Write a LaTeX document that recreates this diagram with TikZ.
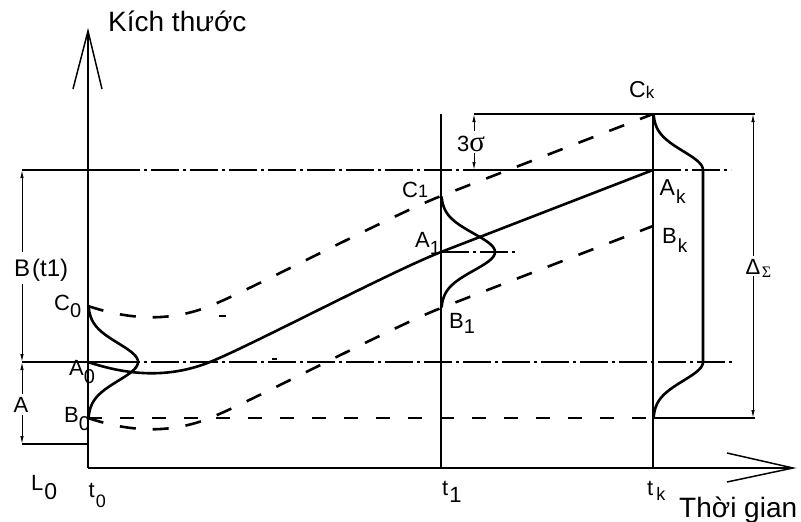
\documentclass[tikz,border=0pt]{standalone}
\usepackage{fontspec}
\setmainfont{Liberation Sans}
\newfontfamily\seriffam{Liberation Serif}
\usetikzlibrary{arrows.meta}
\newcommand\fs[1]{\fontsize{#1}{#1}\selectfont}
\newcommand\lsub[6]{{\fs{#1}#2}\kern#6pt\raisebox{-#5pt}{\fs{#3}#4}}
\begin{document}
\begin{tikzpicture}[x=1pt,y=-1pt,
  thinl/.style={line width=1.1pt},
  axisl/.style={line width=1.5pt},
  curvel/.style={line width=2.6pt, line join=round},
  dashc/.style={curvel, dash pattern=on 16pt off 17pt},
  ddl/.style={line width=1.2pt, dash pattern=on 28pt off 4pt on 3pt off 4pt},
  diml/.style={line width=1pt},
  tipl/.style={-{Latex[length=8pt,width=3.5pt]}},
  lab/.style={inner sep=0pt, anchor=base west},
]
\useasboundingbox (0,0) rectangle (801,522);
% axes
\coordinate (O) at (88,468);
\coordinate (Ytop) at (88,31);
\coordinate (Xend) at (793,468);
\coordinate (ya1) at (73,89);
\coordinate (ya2) at (102,89);
\coordinate (xa1) at (727,453);
\coordinate (xa2) at (727,482);
\draw[axisl] (O) -- (Ytop);
\draw[axisl] (ya1) -- (Ytop) -- (ya2);
\draw[axisl] (O) -- (Xend);
\draw[axisl] (xa1) -- (Xend) -- (xa2);
% vertical time lines
\coordinate (T1top) at (441,114);
\coordinate (T1bot) at (441,468);
\coordinate (TKtop) at (653,114);
\coordinate (TKbot) at (653,468);
\draw[thinl] (T1top) -- (T1bot);
\draw[thinl] (TKtop) -- (TKbot);
% horizontal lines
\draw[thinl] (22,170) -- (112,170);
\draw[ddl] (112,170) -- (474,170);
\draw[thinl] (474,170) -- (653,170);
\draw[ddl] (653,170) -- (731,170);
\draw[thinl] (22,362) -- (112,362);
\draw[ddl] (112,362) -- (733,362);
\draw[thinl, dash pattern=on 14pt off 18pt] (88,418) -- (653,418);
\draw[thinl] (653,418) -- (755,418);
\draw[thinl] (22,444) -- (88,444);
\draw[thinl] (474,114) -- (755,114);
\draw[ddl] (441,252) -- (518,252);
% dimensions
\draw[diml,tipl] (22,252) -- (22,170);
\draw[diml,tipl] (22,284) -- (22,362);
\draw[diml,tipl] (22,394) -- (22,362);
\draw[diml,tipl] (22,415) -- (22,444);
\draw[diml,tipl] (474,131) -- (474,114);
\draw[diml,tipl] (474,153) -- (474,170);
\draw[diml,tipl] (753,256) -- (753,114);
\draw[diml,tipl] (753,276) -- (753,418);
% main curves
\draw[curvel] (88,362) .. controls (130,376) and (170,378) .. (210,362)
  .. controls (250,346) and (390,272) .. (441,252) -- (653,170);
\draw[dashc] (88,306) .. controls (130,320) and (170,322) .. (210,306)
  .. controls (250,290) and (390,216) .. (441,196) -- (653,114);
\draw[dashc] (88,418) .. controls (130,432) and (170,434) .. (210,418)
  .. controls (250,402) and (390,328) .. (441,308) -- (653,226);
\draw[line width=2pt] (219,316) -- (226,316);
\draw[line width=1.4pt] (272,359) -- (277,359);
% distributions
\draw[curvel] plot[domain=-3:3, samples=61, smooth] ({88+50*exp(-\x*\x/2)}, {362+18.7*\x});
\draw[curvel] plot[domain=-3:3, samples=61, smooth] ({441+54*exp(-\x*\x/2)}, {252+18.5*\x});
\draw[curvel] plot[domain=-3:0, samples=31, smooth] ({653+50*exp(-\x*\x/2)}, {170+18.7*\x})
  -- plot[domain=0:3, samples=31, smooth] ({653+50*exp(-\x*\x/2)}, {362+18.7*\x});
% labels
\node[lab] (kt) at (108,31) {\fs{28}Kích thước};
\node[lab] (tg) at (679,517) {\fs{28}Thời gian};
\node[lab] (C0) at (54,310) {\lsub{22}{C}{20}{0}{7}{0}};
\node[lab] (A0) at (69,375) {\lsub{22}{A}{20}{0}{8}{0}};
\node[lab] (B0) at (64,422) {\lsub{22}{B}{20}{0}{8}{0}};
\node[lab] (Bt) at (14,276) {\fs{24}B\kern2pt(t1)};
\node[lab] (Al) at (13.5,412) {\fs{22}A};
\node[lab] (L0) at (31,490) {\lsub{22}{L}{23}{0}{9}{1}};
\node[lab] (t0) at (88.5,497) {\lsub{22}{t}{18}{0}{10}{1}};
\node[lab] (t1) at (442,495) {\lsub{22}{t}{22}{1}{7}{1}};
\node[lab] (tk) at (647,495) {\lsub{22}{t}{18}{k}{5}{3}};
\node[lab] (Ck) at (629,97) {\lsub{23}{C}{17}{k}{1}{0}};
\node[lab] (Ak) at (659.5,195) {\lsub{23}{A}{19}{k}{8}{1}};
\node[lab] (Bk) at (662,243) {\lsub{22}{B}{19}{k}{9}{1}};
\node[lab] (C1) at (402,197) {\lsub{22}{C}{18}{1}{0}{0}};
\node[lab] (A1) at (415,247) {\lsub{22}{A}{19}{1}{7}{0}};
\node[lab] (B1) at (449,328) {\lsub{22}{B}{20}{1}{5}{0}};
\node[lab] (s3) at (457,151.5) {\fs{22}3{\seriffam\fs{29}σ}};
\node[lab] (dl) at (745.5,274) {\fs{22}Δ\kern1.5pt\raisebox{-3pt}{\seriffam\fs{16}Σ}};
\end{tikzpicture}
\end{document}
